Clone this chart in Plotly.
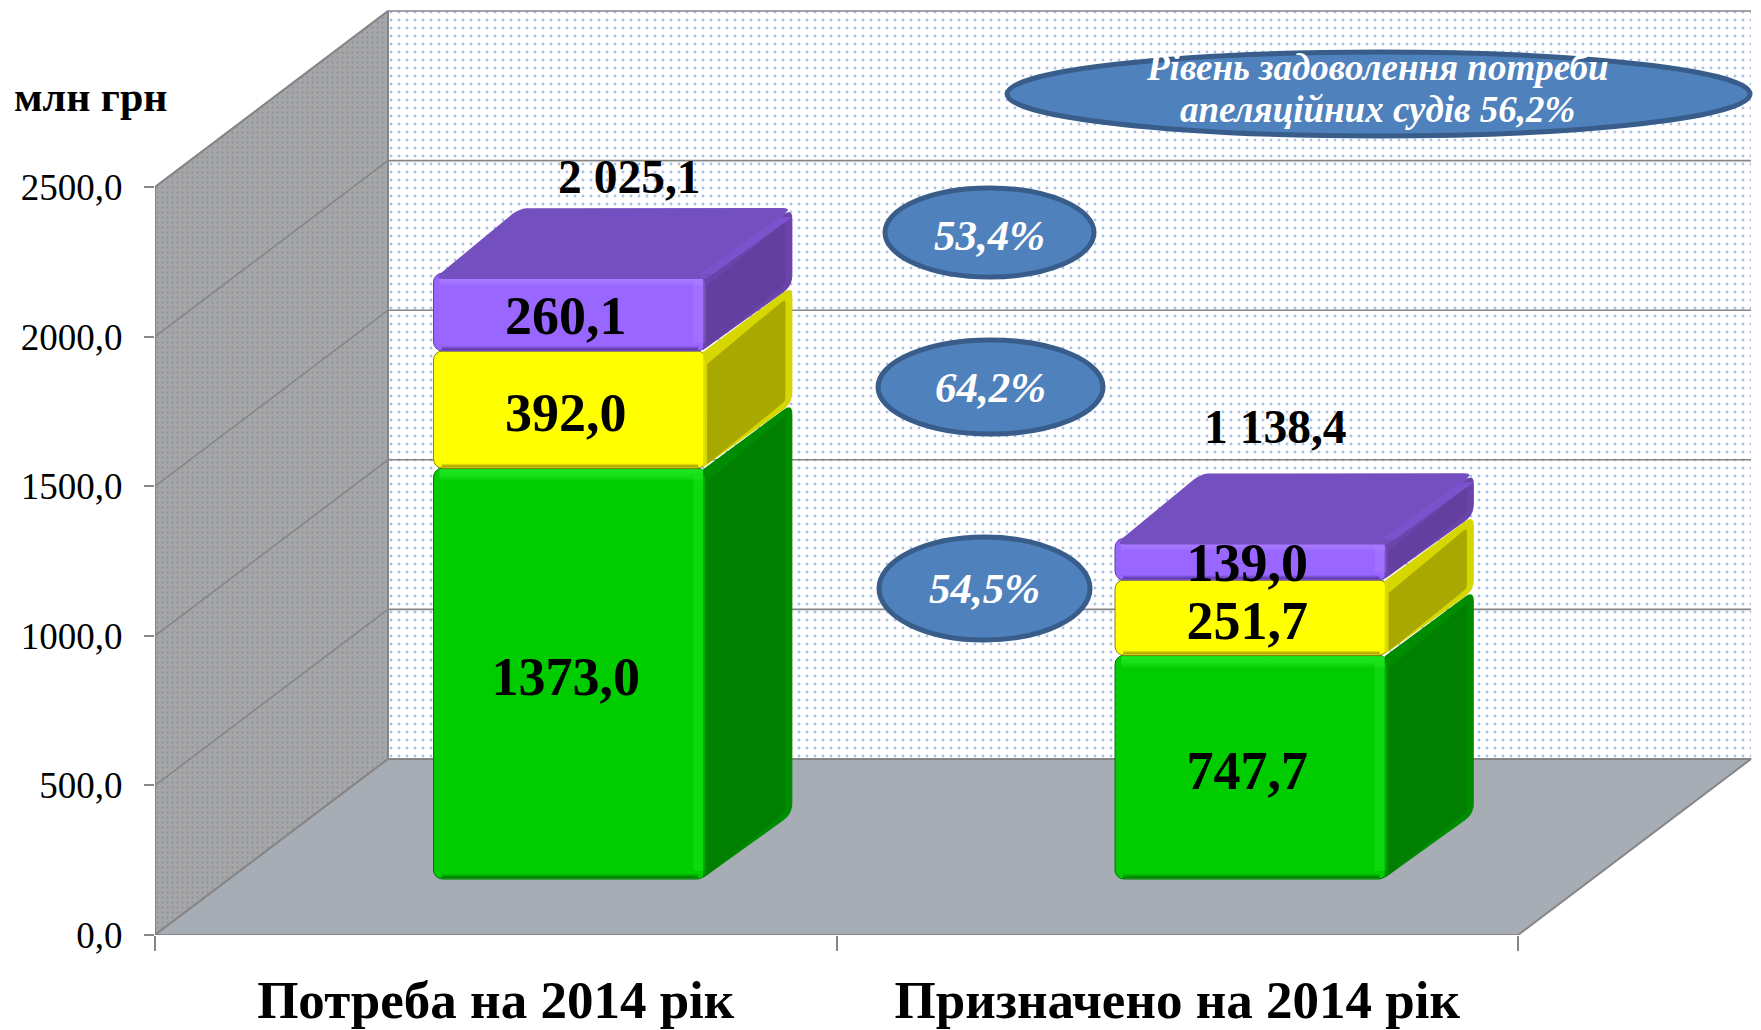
import plotly.graph_objects as go

# ---- data ----
categories = ["Потреба на 2014 рік", "Призначено на 2014 рік"]
green_values = [1373.0, 747.7]
yellow_values = [392.0, 251.7]
purple_values = [260.1, 139.0]
total_labels = ["2 025,1", "1 138,4"]
y_ticks = [0, 500, 1000, 1500, 2000, 2500]
y_tick_labels = ["0,0", "500,0", "1000,0", "1500,0", "2000,0", "2500,0"]
unit_label = "млн грн"
percent_labels = ["53,4%", "64,2%", "54,5%"]
summary_lines = ["Рівень задоволення потреби", "апеляційних судів 56,2%"]

# ---- geometry of the pseudo 3D frame ----
W, H = 1761, 1030
X0_PX, Y0_PX = 155.0, 935.0
UX = 681.5          # px per category
UY = 0.2992         # px per value unit
DEPTH_X = 233 / UX
DEPTH_Y = 176 / UY
Z_FRONT = 0.318
Z_SPAN = 0.37
BAR_W = 0.40
FONT = "Liberation Serif"

xr_full = [0, (W - X0_PX) / UX]
yr_full = [0, Y0_PX / UY]
bar_base = Z_FRONT * DEPTH_Y
x_shift = Z_FRONT * DEPTH_X
dzx, dzy = Z_SPAN * DEPTH_X, Z_SPAN * DEPTH_Y


def px_x(v):
    return v / UX


def px_y(v):
    return v / UY


def rounded(points, radii):
    """Polygon with rounded corners; radii are in screen pixels."""
    pts = [(x * UX, y * UY) for x, y in points]
    out_x, out_y = [], []
    n = len(pts)
    for i in range(n):
        p = pts[i]
        r = radii[i]
        if r <= 0:
            out_x.append(p[0] / UX)
            out_y.append(p[1] / UY)
            continue
        a, b = pts[i - 1], pts[(i + 1) % n]
        la = ((a[0] - p[0]) ** 2 + (a[1] - p[1]) ** 2) ** 0.5
        lb = ((b[0] - p[0]) ** 2 + (b[1] - p[1]) ** 2) ** 0.5
        s = (p[0] + (a[0] - p[0]) * r / la, p[1] + (a[1] - p[1]) * r / la)
        e = (p[0] + (b[0] - p[0]) * r / lb, p[1] + (b[1] - p[1]) * r / lb)
        for k in range(6):
            t = k / 5
            qx = (1 - t) ** 2 * s[0] + 2 * t * (1 - t) * p[0] + t * t * e[0]
            qy = (1 - t) ** 2 * s[1] + 2 * t * (1 - t) * p[1] + t * t * e[1]
            out_x.append(qx / UX)
            out_y.append(qy / UY)
    out_x.append(out_x[0])
    out_y.append(out_y[0])
    return out_x, out_y


fig = go.Figure()
AX_COL = "#868686"


def poly(points, fill, radii=None, axes=2, line=None, pattern=None, gradient=None):
    radii = radii or [0] * len(points)
    x, y = rounded(points, radii)
    kw = dict(
        x=x, y=y, mode="lines", fill="toself", hoverinfo="skip", showlegend=False,
        line=dict(width=line[1], color=line[0]) if line else dict(width=0),
        cliponaxis=False,
    )
    if pattern:
        kw["fillpattern"] = pattern
    elif gradient:
        kw["fillgradient"] = gradient
    else:
        kw["fillcolor"] = fill
    if axes == 2:
        kw["xaxis"] = "x2"
        kw["yaxis"] = "y2"
    fig.add_trace(go.Scatter(**kw))


# walls and floor (primary axes, drawn beneath the bars)
ytop = y_ticks[-1]
poly([(DEPTH_X, DEPTH_Y), (2 + DEPTH_X, DEPTH_Y), (2 + DEPTH_X, ytop + DEPTH_Y), (DEPTH_X, ytop + DEPTH_Y)],
     "#fff", axes=1,
     pattern=dict(shape=".", size=8, solidity=0.1, fgcolor="#a8c2e6", bgcolor="#ffffff", fillmode="replace"))
poly([(0, 0), (DEPTH_X, DEPTH_Y), (DEPTH_X, ytop + DEPTH_Y), (0, ytop)],
     "#a6a6a6", axes=1,
     pattern=dict(shape=".", size=5, solidity=0.1, fgcolor="#7f8ea3", bgcolor="#a6a6a6", fillmode="replace"),
     line=(AX_COL, 2))
poly([(0, 0), (2, 0), (2 + DEPTH_X, DEPTH_Y), (DEPTH_X, DEPTH_Y)], "#a6adb4", axes=1, line=(AX_COL, 2))

grid_x, grid_y = [], []
for v in y_ticks[1:]:
    grid_x += [0, DEPTH_X, 2 + DEPTH_X, None]
    grid_y += [v, v + DEPTH_Y, v + DEPTH_Y, None]
fig.add_trace(go.Scatter(x=grid_x, y=grid_y, mode="lines", line=dict(color=AX_COL, width=1.6),
                         hoverinfo="skip", showlegend=False, cliponaxis=False))

# bars
segments = [
    dict(values=green_values, front="#00cc00", edge="#007000", bevel="#008c00", side="#007f00",
         hi="rgba(60,255,60,0.5)", low="rgba(0,90,0,0.75)"),
    dict(values=yellow_values, front="#ffff00", edge="#8f8000", bevel="#d6d600", side="#a8a800",
         hi="rgba(255,255,0,0.0)", low="rgba(130,110,0,0.75)"),
    dict(values=purple_values, front="#9966ff", edge="#5a3aa0", bevel="#6a44ab", side="#633f9f",
         hi="rgba(190,150,255,0.5)", low="rgba(70,40,130,0.75)"),
]
centers = [i + 0.5 + x_shift for i in range(len(categories))]

cum = [bar_base] * len(categories)
for seg in segments:
    seg["base"] = list(cum)
    fig.add_trace(go.Bar(
        x=centers, y=seg["values"], base=seg["base"], width=BAR_W,
        marker=dict(color=seg["front"], cornerradius=9, line=dict(color=seg["edge"], width=1)),
        xaxis="x2", yaxis="y2", hoverinfo="skip", showlegend=False,
    ))
    cum = [c + v for c, v in zip(cum, seg["values"])]

for seg in segments:
    for i, c in enumerate(centers):
        xl, xr = c - BAR_W / 2, c + BAR_W / 2
        y0 = seg["base"][i]
        y1 = y0 + seg["values"][i]
        # side face: bevel colour beneath, flat colour inset
        poly([(xr - px_x(3), y0 + px_y(1)), (xr - px_x(3), y1 - px_y(1)),
              (xr + dzx, y1 + dzy), (xr + dzx, y0 + dzy)],
             seg["bevel"], radii=[0, 0, 11, 11])
        inset_top = px_y(13)
        poly([(xr + px_x(1), y0 + px_y(4)), (xr + px_x(1), y1 - inset_top),
              (xr + dzx - px_x(7), y1 + dzy - inset_top), (xr + dzx - px_x(7), y0 + dzy + px_y(2))],
             seg["side"], radii=[0, 0, 4, 4])
        # front face bevels
        top_band = px_y(13)
        poly([(xl + px_x(6), y1 - top_band), (xr - px_x(3), y1 - top_band), (xr - px_x(3), y1 - px_y(1)), (xl + px_x(6), y1 - px_y(1))],
             None, gradient=dict(type="vertical", colorscale=[[0, seg["front"]], [1, seg["hi"]]]))
        poly([(xr - px_x(13), y0 + px_y(8)), (xr - px_x(1), y0 + px_y(8)), (xr - px_x(1), y1 - px_y(8)), (xr - px_x(13), y1 - px_y(8))],
             seg["hi"].rsplit(",", 1)[0] + ",0.22)")
        poly([(xl + px_x(8), y0 + px_y(1)), (xr - px_x(8), y0 + px_y(1)), (xr - px_x(8), y0 + px_y(5)), (xl + px_x(8), y0 + px_y(5))],
             None, gradient=dict(type="vertical", colorscale=[[0, seg["low"]], [1, seg["front"]]]))

# purple top face
for i, c in enumerate(centers):
    xl, xr = c - BAR_W / 2, c + BAR_W / 2
    t = cum[i]
    poly([(xl, t - px_y(6)), (xr, t - px_y(6)), (xr + dzx, t + dzy), (xl + dzx, t + dzy)],
         "#734fbf", radii=[10, 0, 10, 10])
    poly([(xr - px_x(7), t - px_y(1)), (xr + px_x(7), t - px_y(1)),
          (xr + dzx, t + dzy - px_y(9)), (xr + dzx - px_x(13), t + dzy - px_y(9))],
         "#7b52cc")

# values on the bars
lab_x, lab_y, lab_t = [], [], []
for seg in segments:
    for i, c in enumerate(centers):
        lab_x.append(c - px_x(4))
        lab_y.append(seg["base"][i] + seg["values"][i] / 2 - px_y(8))
        lab_t.append("<b>" + f"{seg['values'][i]:.1f}".replace(".", ",") + "</b>")
fig.add_trace(go.Scatter(
    x=lab_x, y=lab_y, text=lab_t, mode="text", textposition="middle center",
    textfont=dict(family=FONT, size=54, color="#000000"),
    xaxis="x2", yaxis="y2", hoverinfo="skip", showlegend=False, cliponaxis=False,
))


def paper_x(px):
    return px / W


def paper_y(py):
    return 1 - py / H


def note(text, px, py, size, color="#000000", bold=False, italic=False):
    t = text
    if bold:
        t = f"<b>{t}</b>"
    if italic:
        t = f"<i>{t}</i>"
    fig.add_annotation(text=t, x=paper_x(px), y=paper_y(py), xref="paper", yref="paper",
                       xanchor="center", yanchor="middle", showarrow=False,
                       font=dict(family=FONT, size=size, color=color))


shapes = []
for (x0, x1, y0, y1) in [(1005, 1752, 50, 138), (883, 1096, 186, 279), (876, 1105, 338, 436), (877, 1092, 535, 642)]:
    shapes.append(dict(type="circle", xref="paper", yref="paper",
                       x0=paper_x(x0 + 2), x1=paper_x(x1 - 2), y0=paper_y(y1 - 2), y1=paper_y(y0 + 2),
                       fillcolor="#4f81bd", line=dict(color="#385d8a", width=5), layer="above"))

note(summary_lines[0], 1377, 67, 37, "#ffffff", bold=True, italic=True)
note(summary_lines[1], 1377, 110, 37, "#ffffff", bold=True, italic=True)
for txt, px, py in zip(percent_labels, [989, 990, 984], [235, 388, 588]):
    note(txt, px, py, 43, "#ffffff", bold=True, italic=True)
for txt, px, py in zip(total_labels, [629, 1275], [177, 427]):
    note(txt, px, py, 47.5, bold=True)
note(unit_label, 91, 97, 42, bold=True)

fig.update_layout(
    width=W, height=H, margin=dict(l=0, r=0, t=0, b=0, pad=0),
    paper_bgcolor="#ffffff", plot_bgcolor="#ffffff", barmode="overlay", showlegend=False,
    shapes=shapes, font=dict(family=FONT),
    xaxis=dict(
        domain=[X0_PX / W, 1], range=xr_full, showgrid=False, zeroline=False, showline=False,
        automargin=False,
        tickmode="array", tickvals=[0.5, 1.5], ticktext=[f"<b>{c}</b>" for c in categories],
        ticks="", ticklabelstandoff=29, tickfont=dict(family=FONT, size=53, color="#000000"),
        minor=dict(tickmode="array", tickvals=[0, 1, 2], ticks="outside", ticklen=15, tickwidth=2, tickcolor=AX_COL, showgrid=False),
    ),
    yaxis=dict(
        domain=[(H - Y0_PX) / H, 1], range=yr_full, showgrid=False, zeroline=False, showline=False,
        automargin=False,
        tickmode="array", tickvals=y_ticks, ticktext=y_tick_labels,
        ticks="outside", ticklen=10, tickwidth=2, tickcolor=AX_COL, ticklabelstandoff=14,
        tickfont=dict(family=FONT, size=37, color="#000000"),
    ),
    xaxis2=dict(overlaying="x", range=xr_full, visible=False, domain=[X0_PX / W, 1]),
    yaxis2=dict(overlaying="y", range=yr_full, visible=False, domain=[(H - Y0_PX) / H, 1]),
)

fig.write_html(
    "out.html", config=dict(displayModeBar=False),
    post_script="document.body.style.margin='0';document.documentElement.style.overflow='hidden';",
)
